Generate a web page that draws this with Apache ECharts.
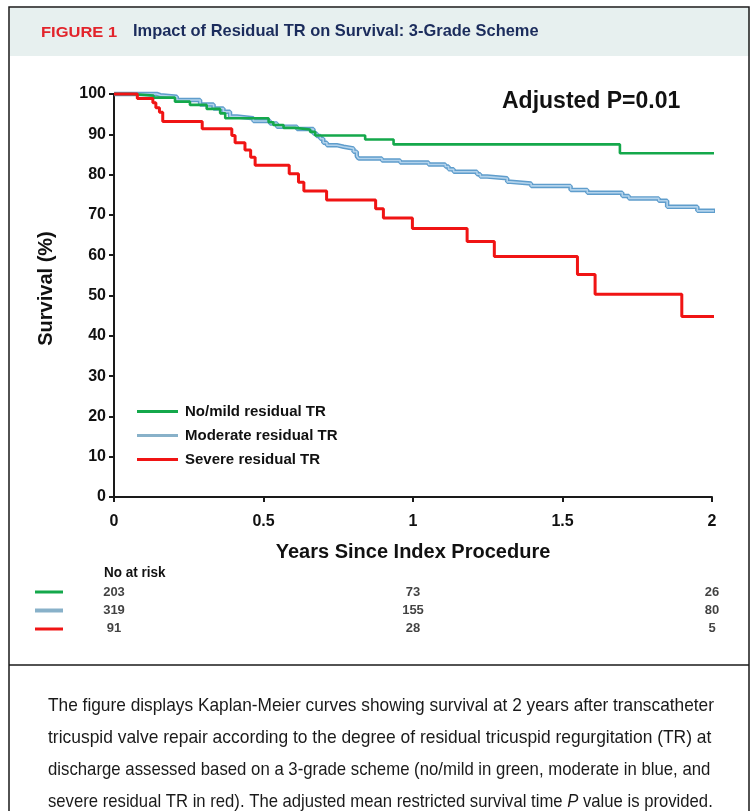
<!DOCTYPE html>
<html>
<head>
<meta charset="utf-8">
<script src="https://cdn.jsdelivr.net/npm/echarts@6/dist/echarts.min.js"></script>
<style>
html,body{margin:0;padding:0;background:#fff;}
#chart{width:756px;height:811px;}
</style>
</head>
<body>
<div id="chart"></div>
<script>
// ---- data ----
var greenT = [0, 0.059, 0.132, 0.204, 0.254, 0.31, 0.355, 0.372, 0.517, 0.533, 0.567, 0.606, 0.656, 0.673, 0.84, 0.935, 1.692, 2.02];
var greenS = [100, 99.6, 99.1, 98.1, 97.3, 96.3, 95.2, 94.0, 93.0, 92.3, 91.6, 91.2, 90.6, 89.7, 88.7, 87.5, 85.3, 85.3];

var blueT = [0, 0.143, 0.155, 0.21, 0.288, 0.333, 0.366, 0.388, 0.411, 0.466, 0.522, 0.545, 0.612, 0.667, 0.678, 0.69, 0.70, 0.712, 0.745, 0.768, 0.801, 0.812, 0.818, 0.896, 0.957, 1.052, 1.108, 1.119, 1.136, 1.214, 1.225, 1.248, 1.315, 1.326, 1.395, 1.527, 1.583, 1.70, 1.722, 1.822, 1.85, 1.951, 2.02];
var blueS = [100, 99.7, 99.3, 98.5, 97.4, 96.4, 95.6, 94.4, 94.0, 93.3, 92.7, 91.9, 91.3, 90.2, 89.6, 88.9, 87.9, 87.3, 86.9, 86.5, 85.7, 84.6, 84.0, 83.5, 83.0, 82.5, 82.0, 81.3, 80.7, 80.1, 79.5, 79.1, 78.2, 77.8, 77.2, 76.2, 75.5, 74.7, 74.1, 73.5, 72.0, 71.0, 71.0];

var redT = [0, 0.078, 0.13, 0.14, 0.152, 0.163, 0.295, 0.394, 0.405, 0.438, 0.457, 0.472, 0.586, 0.617, 0.635, 0.711, 0.875, 0.901, 0.998, 1.181, 1.272, 1.55, 1.609, 1.899, 2.02];
var redS = [100, 98.9, 97.8, 96.6, 95.5, 93.2, 91.4, 89.7, 87.9, 86.1, 84.3, 82.3, 80.2, 78.1, 75.9, 73.7, 71.5, 69.2, 66.6, 63.4, 59.7, 55.2, 50.3, 44.8, 44.8];

var seriesNames = ['No/mild residual TR', 'Moderate residual TR', 'Severe residual TR'];
var riskTimes = [0, 1, 2];
var riskGreen = [203, 73, 26];
var riskBlue = [319, 155, 80];
var riskRed = [91, 28, 5];
var pText = 'Adjusted P=0.01';
var yName = 'Survival (%)';
var xName = 'Years Since Index Procedure';
var figLabel = 'FIGURE 1';
var figTitle = 'Impact of Residual TR on Survival: 3-Grade Scheme';
var riskTitle = 'No at risk';
var captionLines = [
  'The figure displays Kaplan-Meier curves showing survival at 2 years after transcatheter',
  'tricuspid valve repair according to the degree of residual tricuspid regurgitation (TR) at',
  'discharge assessed based on a 3-grade scheme (no/mild in green, moderate in blue, and',
  'severe residual TR in red). The adjusted mean restricted survival time {i|P} value is provided.'
];

// ---- styles ----
var GREEN = '#14a84b', BLUE_OUT = '#5f9dcc', BLUE_IN = '#b3d3ec', BLUE_LEG = '#88b1c9', RED = '#f01414';
var AX = '#1a1a1a';
var FONT = 'Liberation Sans, Arial, sans-serif';
var captionScale = [0.91, 0.917, 0.882, 0.878];

function pairs(t, s) { return t.map(function (x, i) { return [x, s[i]]; }); }

var chart = echarts.init(document.getElementById('chart'), null, {renderer: 'canvas'});

function riskSeries(vals, row, name) {
  return {
    name: name, type: 'scatter', xAxisIndex: 1, yAxisIndex: 1,
    symbolSize: 0, silent: true,
    data: riskTimes.map(function (t, i) { return [t, row, vals[i]]; }),
    label: {
      show: true, position: 'inside',
      formatter: function (p) { return String(p.data[2]); },
      fontFamily: FONT, fontWeight: 'bold', fontSize: 13, color: '#111'
    }
  };
}

var option = {
  animation: false,
  backgroundColor: '#ffffff',
  grid: [
    {left: 114, right: 44, top: 94, bottom: 314, containLabel: false},
    {left: 114, right: 44, top: 583, height: 55, containLabel: false}
  ],
  xAxis: [{
    type: 'value', min: 0, max: 2, interval: 0.5, gridIndex: 0,
    axisLine: {show: true, lineStyle: {color: AX, width: 2}},
    axisTick: {show: true, length: 5, lineStyle: {color: AX, width: 2}},
    splitLine: {show: false},
    axisLabel: {fontFamily: FONT, fontWeight: 'bold', fontSize: 16, color: '#111', margin: 17},
    name: xName, nameLocation: 'middle', nameGap: 45,
    nameTextStyle: {fontFamily: FONT, fontWeight: 'bold', fontSize: 20, color: '#111'}
  }, {
    type: 'value', min: 0, max: 2, gridIndex: 1, show: false
  }],
  yAxis: [{
    type: 'value', min: 0, max: 100, interval: 10, gridIndex: 0,
    axisLine: {show: true, lineStyle: {color: AX, width: 2}},
    axisTick: {show: true, length: 5, lineStyle: {color: AX, width: 2}},
    splitLine: {show: false},
    axisLabel: {fontFamily: FONT, fontWeight: 'bold', fontSize: 16, color: '#111', margin: 8},
    name: yName, nameLocation: 'middle', nameGap: 58, nameRotate: 90,
    nameTextStyle: {fontFamily: FONT, fontWeight: 'bold', fontSize: 20, color: '#111', padding: [0, 0, 0, 14]}
  }, {
    type: 'value', min: -0.5, max: 2.5, inverse: true, gridIndex: 1, show: false
  }],
  legend: {
    orient: 'vertical', left: 132, top: 399, itemGap: 9,
    itemWidth: 41, itemHeight: 3, icon: 'rect',
    textStyle: {fontFamily: FONT, fontWeight: 'bold', fontSize: 15, color: '#111', padding: [0, 0, 0, 2]},
    selectedMode: false,
    data: [
      {name: seriesNames[0], itemStyle: {color: GREEN}},
      {name: seriesNames[1], itemStyle: {color: BLUE_LEG}},
      {name: seriesNames[2], itemStyle: {color: RED}}
    ]
  },
  graphic: [],
  series: [
    {
      name: seriesNames[1], type: 'line', step: 'end', showSymbol: false, clip: false,
      data: pairs(blueT, blueS), lineStyle: {color: BLUE_OUT, width: 4.5}, itemStyle: {color: BLUE_LEG}, z: 2
    },
    {
      name: 'blue-inner', type: 'line', step: 'end', showSymbol: false, clip: false,
      data: pairs(blueT, blueS), lineStyle: {color: BLUE_IN, width: 1.6}, z: 3
    },
    {
      name: seriesNames[0], type: 'line', step: 'end', showSymbol: false, clip: false,
      data: pairs(greenT, greenS), lineStyle: {color: GREEN, width: 2.6}, itemStyle: {color: GREEN}, z: 4
    },
    {
      name: seriesNames[2], type: 'line', step: 'end', showSymbol: false, clip: false,
      data: pairs(redT, redS), lineStyle: {color: RED, width: 3}, itemStyle: {color: RED}, z: 5
    },
    riskSeries(riskGreen, 0, 'risk-green'),
    riskSeries(riskBlue, 1, 'risk-blue'),
    riskSeries(riskRed, 2, 'risk-red')
  ]
};

// decorations (frame, header, caption, annotations)
var g = option.graphic;
g.push({type: 'rect', shape: {x: 10, y: 8, width: 739, height: 48}, style: {fill: '#e7f0ef'}, z: -10});
g.push({type: 'rect', shape: {x: 9, y: 7, width: 740, height: 830}, style: {fill: null, stroke: '#1a1a1a', lineWidth: 1.5}, z: 10});
g.push({type: 'line', shape: {x1: 9, y1: 665, x2: 749, y2: 665}, style: {stroke: '#1a1a1a', lineWidth: 1.5}, z: 10});
g.push({type: 'text', x: 41, y: 25, scaleX: 1.1, style: {text: figLabel, fontFamily: FONT, fontWeight: 'bold', fontSize: 15, fill: '#e2242b'}});
g.push({type: 'text', x: 133, y: 23, scaleX: 0.967, style: {text: figTitle, fontFamily: FONT, fontWeight: 'bold', fontSize: 17, fill: '#1b2c5c'}});
g.push({type: 'text', x: 502, y: 90, style: {text: pText, fontFamily: FONT, fontWeight: 'bold', fontSize: 23, fill: '#111'}});
g.push({type: 'text', x: 104, y: 565, scaleX: 0.9, style: {text: riskTitle, fontFamily: FONT, fontWeight: 'bold', fontSize: 15, fill: '#111'}});
var riskCols = [GREEN, BLUE_LEG, RED];
riskCols.forEach(function (c, i) {
  g.push({type: 'line', shape: {x1: 35, y1: 592 + i * 18.5, x2: 63, y2: 592 + i * 18.5}, style: {stroke: c, lineWidth: i === 1 ? 4 : 3}});
});
captionLines.forEach(function (line, i) {
  g.push({type: 'text', x: 48, y: 696 + i * 32, scaleX: captionScale[i], style: {
    text: line, fontFamily: FONT, fontSize: 19, fill: '#1a1a1a',
    rich: {i: {fontStyle: 'italic', fontFamily: FONT, fontSize: 19, fill: '#1a1a1a'}}
  }});
});

chart.setOption(option);
</script>
</body>
</html>
